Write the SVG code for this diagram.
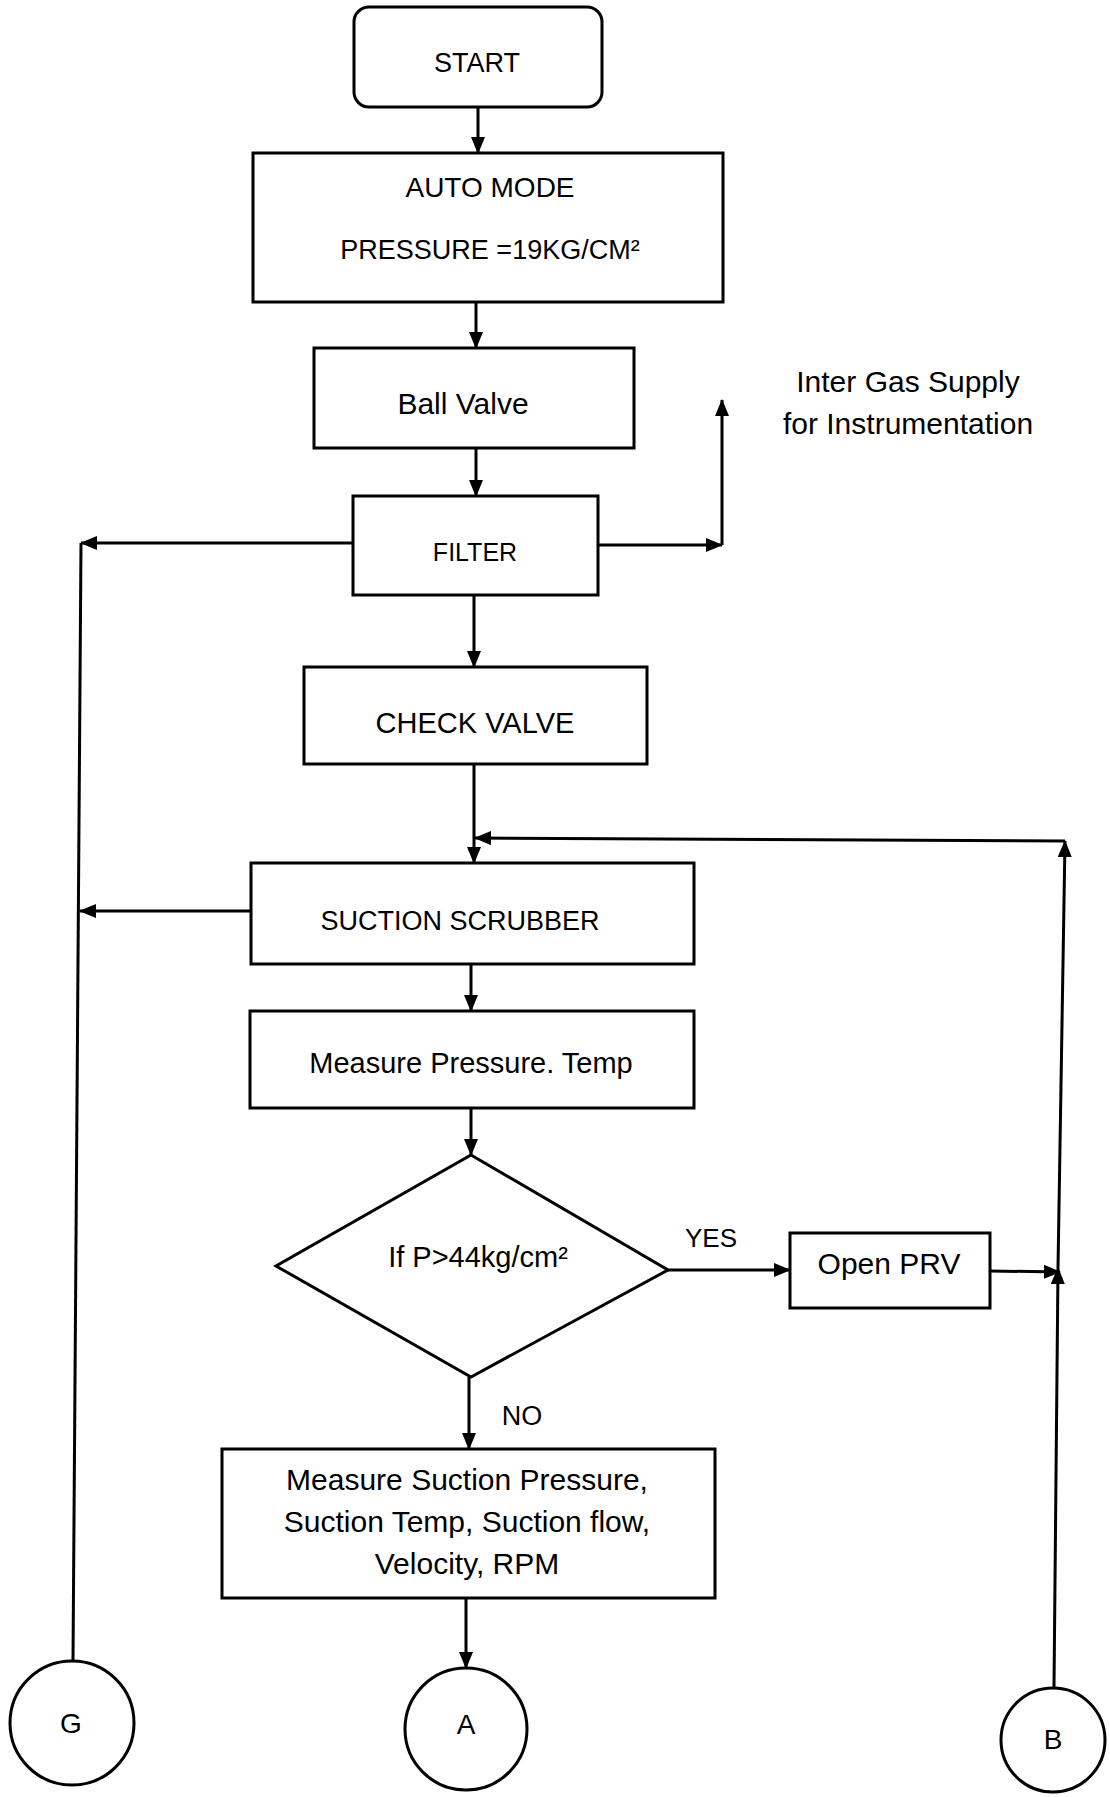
<svg xmlns="http://www.w3.org/2000/svg" width="1110" height="1797" viewBox="0 0 1110 1797">
<defs>
<marker id="ah" markerWidth="17" markerHeight="14" refX="16" refY="7" orient="auto" markerUnits="userSpaceOnUse">
<path d="M0,0 L17,7 L0,14 Z" fill="#000"/>
</marker>
<style>
.box{fill:#fff;stroke:#000;stroke-width:3}
.ln{fill:none;stroke:#000;stroke-width:3}
.t{font-family:"Liberation Sans",Arial,sans-serif;fill:#000;text-anchor:middle}
</style>
</defs>
<rect width="1110" height="1797" fill="#fff"/>
<g id="connectors">
<line class="ln" x1="478" y1="107" x2="478" y2="153" marker-end="url(#ah)"/>
<line class="ln" x1="476" y1="302" x2="476" y2="348" marker-end="url(#ah)"/>
<line class="ln" x1="476" y1="448" x2="476" y2="496" marker-end="url(#ah)"/>
<line class="ln" x1="353" y1="543" x2="81" y2="543" marker-end="url(#ah)"/>
<line class="ln" x1="81" y1="543" x2="73" y2="1661"/>
<line class="ln" x1="251" y1="911" x2="80" y2="911" marker-end="url(#ah)"/>
<line class="ln" x1="598" y1="545" x2="722" y2="545" marker-end="url(#ah)"/>
<line class="ln" x1="722" y1="545" x2="722" y2="400" marker-end="url(#ah)"/>
<line class="ln" x1="474" y1="595" x2="474" y2="667" marker-end="url(#ah)"/>
<line class="ln" x1="474" y1="764" x2="474" y2="863" marker-end="url(#ah)"/>
<line class="ln" x1="1054" y1="1687" x2="1058" y2="1268" marker-end="url(#ah)"/>
<line class="ln" x1="1058" y1="1268" x2="1065" y2="841" marker-end="url(#ah)"/>
<line class="ln" x1="1065" y1="841" x2="475" y2="838" marker-end="url(#ah)"/>
<line class="ln" x1="471" y1="964" x2="471" y2="1011" marker-end="url(#ah)"/>
<line class="ln" x1="471" y1="1108" x2="471" y2="1155" marker-end="url(#ah)"/>
<line class="ln" x1="668" y1="1270" x2="790" y2="1270" marker-end="url(#ah)"/>
<line class="ln" x1="990" y1="1271" x2="1060" y2="1272" marker-end="url(#ah)"/>
<line class="ln" x1="469" y1="1377" x2="469" y2="1449" marker-end="url(#ah)"/>
<line class="ln" x1="466" y1="1598" x2="466" y2="1668" marker-end="url(#ah)"/>
<text class="t" x="711" y="1247" font-size="26">YES</text>
<text class="t" x="522" y="1425" font-size="27">NO</text>
<text class="t" x="908" y="392" font-size="30">Inter Gas Supply</text>
<text class="t" x="908" y="434" font-size="30">for Instrumentation</text>
</g>
<g id="start">
<rect class="box" x="354" y="7" width="248" height="100" rx="15"/>
<text class="t" x="477" y="72" font-size="27">START</text>
</g>
<g id="auto">
<rect class="box" x="253" y="153" width="470" height="149"/>
<text class="t" x="490" y="197" font-size="28">AUTO MODE</text>
<text class="t" x="490" y="259" font-size="27">PRESSURE =19KG/CM²</text>
</g>
<g id="ball">
<rect class="box" x="314" y="348" width="320" height="100"/>
<text class="t" x="463" y="414" font-size="30">Ball Valve</text>
</g>
<g id="filter">
<rect class="box" x="353" y="496" width="245" height="99"/>
<text class="t" x="475" y="561" font-size="25">FILTER</text>
</g>
<g id="check">
<rect class="box" x="304" y="667" width="343" height="97"/>
<text class="t" x="475" y="733" font-size="29">CHECK VALVE</text>
</g>
<g id="scrubber">
<rect class="box" x="251" y="863" width="443" height="101"/>
<text class="t" x="460" y="930" font-size="27">SUCTION SCRUBBER</text>
</g>
<g id="measure">
<rect class="box" x="250" y="1011" width="444" height="97"/>
<text class="t" x="471" y="1073" font-size="29">Measure Pressure. Temp</text>
</g>
<g id="decision">
<polygon class="box" points="471,1155 668,1270 471,1377 276,1266"/>
<text class="t" x="478" y="1267" font-size="29">If P&gt;44kg/cm²</text>
</g>
<g id="prv">
<rect class="box" x="790" y="1233" width="200" height="75"/>
<text class="t" x="889" y="1274" font-size="30">Open PRV</text>
</g>
<g id="suction">
<rect class="box" x="222" y="1449" width="493" height="149"/>
<text class="t" x="467" y="1490" font-size="30">Measure Suction Pressure,</text>
<text class="t" x="467" y="1532" font-size="30">Suction Temp, Suction flow,</text>
<text class="t" x="467" y="1574" font-size="30">Velocity, RPM</text>
</g>
<g id="conn-g">
<circle class="box" cx="72" cy="1723" r="62"/>
<text class="t" x="71" y="1733" font-size="28">G</text>
</g>
<g id="conn-a">
<circle class="box" cx="466" cy="1729" r="61"/>
<text class="t" x="466" y="1734" font-size="28">A</text>
</g>
<g id="conn-b">
<circle class="box" cx="1053" cy="1740" r="52"/>
<text class="t" x="1053" y="1749" font-size="28">B</text>
</g>
</svg>
